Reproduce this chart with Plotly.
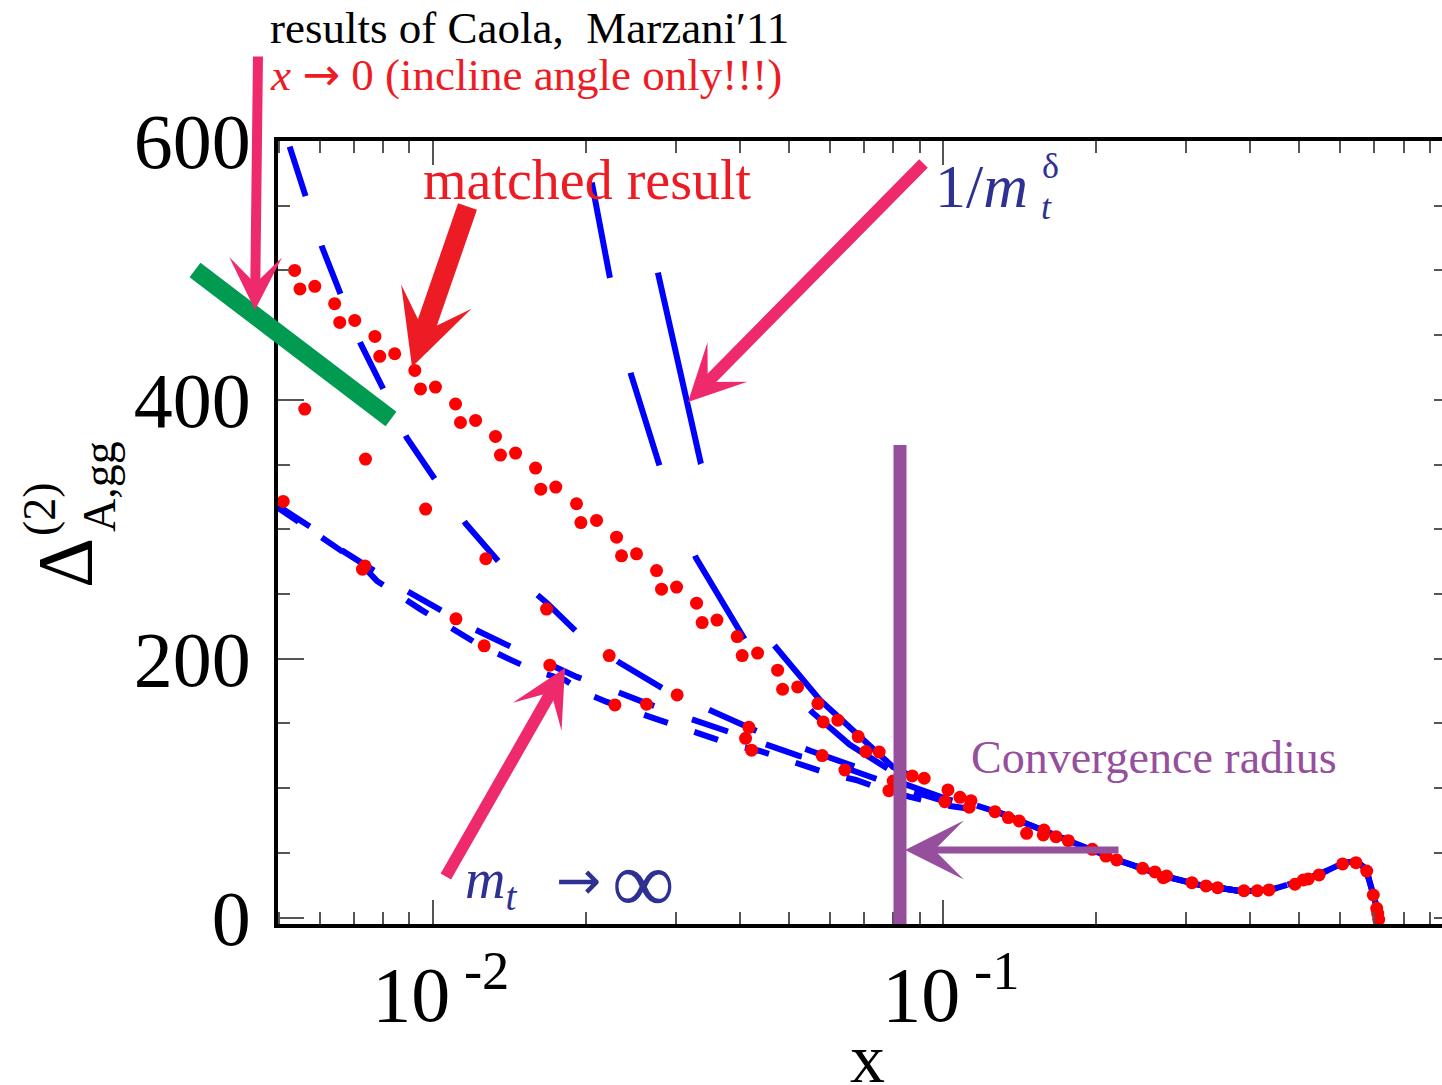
import plotly.graph_objects as go

# ---------------- data ----------------
# matched result (red dots), upper branch
matched_up_x = [0.00490, 0.00536, 0.00549, 0.00587, 0.00642, 0.00657, 0.00703, 0.00770, 0.00787, 0.00842,
                0.00922, 0.00946, 0.01012, 0.01108, 0.01133, 0.01213, 0.01327, 0.01357, 0.01453, 0.01590,
                0.01628, 0.01742, 0.01913, 0.01951, 0.02094, 0.02292, 0.02344, 0.02508, 0.02745, 0.02808,
                0.03005, 0.03289, 0.03373, 0.03606, 0.03951, 0.04041, 0.04332, 0.04742, 0.04850, 0.05190,
                0.05687, 0.05825, 0.06224, 0.06823, 0.07063, 0.07500, 0.07989, 0.07836, 0.08707, 0.09190]
matched_up_y = [512.9, 500.0, 485.7, 487.7, 474.3, 459.8, 461.4, 449.0, 433.6, 435.6,
                422.7, 408.4, 409.9, 396.8, 382.5, 384.1, 371.7, 357.3, 358.9, 347.3,
                331.0, 332.6, 319.7, 305.2, 306.8, 293.9, 279.5, 281.0, 268.1, 253.7,
                255.3, 242.9, 227.9, 229.8, 217.1, 202.4, 204.3, 191.1, 176.4, 178.2,
                165.3, 151.1, 152.5, 139.8, 128.2, 127.9, 105.5, 98.0, 109.4, 107.6]
# matched result, large-x region
matched_hi_x = [0.1023, 0.1009, 0.1080, 0.1135, 0.1126, 0.1265, 0.1343, 0.1411, 0.1459, 0.1578,
                0.1573, 0.1666, 0.1761, 0.1963, 0.2087, 0.2191, 0.2463, 0.2604, 0.2745, 0.2704,
                0.3077, 0.3280, 0.3456, 0.3892, 0.4133, 0.4356, 0.4899, 0.5087, 0.5203, 0.5462,
                0.6076, 0.6453, 0.6773, 0.6978, 0.7087, 0.7118, 0.7150]
matched_hi_y = [98.6, 89.5, 92.9, 90.3, 85.2, 81.8, 77.2, 74.6, 65.1, 67.6,
                63.8, 62.5, 59.4, 52.7, 47.5, 44.5, 38.0, 35.2, 32.1, 30.8,
                26.9, 24.4, 23.0, 20.7, 20.7, 21.3, 25.7, 29.0, 29.8, 32.9,
                41.4, 42.4, 35.9, 17.4, 7.1, 3.2, -1.4]
# matched result, scattered lower points
matched_lo_x = [0.00442, 0.00509, 0.00561, 0.00738, 0.00736, 0.00728, 0.00968, 0.01270, 0.01110, 0.01261,
                0.01671, 0.01696, 0.02217, 0.03013, 0.02275, 0.02624, 0.04165, 0.04103, 0.04216, 0.05799,
                0.06424]
matched_lo_y = [337.8, 321.5, 392.9, 354.2, 271.7, 269.2, 315.6, 277.2, 230.8, 209.9,
                238.3, 195.0, 202.4, 172.0, 164.3, 164.8, 147.0, 138.5, 129.3, 125.1,
                114.0]

# common large-x tail shared by all blue curves
tail_x = [0.1294, 0.1750, 0.2194, 0.2749, 0.3191, 0.3875, 0.4437, 0.5012, 0.5486, 0.6084,
          0.6453, 0.6752, 0.6968, 0.7096, 0.7194]
tail_y = [80.8, 59.9, 44.5, 31.5, 25.1, 20.1, 22.0, 28.2, 33.6, 42.1,
          43.7, 37.5, 19.7, 7.3, -3.5]

# m_t -> infinity (lowest dashed curve)
minf_x = [0.00497, 0.00587, 0.00642, 0.00726, 0.00777, 0.00854, 0.00943, 0.01046, 0.01155, 0.01231,
          0.01422, 0.01585, 0.01815, 0.01968, 0.02194, 0.02444, 0.02737, 0.03050, 0.03445, 0.03823,
          0.04377, 0.04790, 0.05388, 0.06000, 0.06752, 0.07591, 0.08615, 0.1032]
minf_y = [316.6, 297.3, 285.7, 272.5, 260.1, 249.3, 238.5, 227.7, 216.9, 210.7,
          199.1, 190.6, 183.6, 174.3, 166.6, 159.6, 153.5, 147.3, 140.3, 134.1,
          128.7, 123.3, 117.1, 110.9, 106.3, 99.3, 93.2, 86.2]
# 1/m_t expansion, order 1
ord1_x = [0.00497, 0.00587, 0.00642, 0.00726, 0.00787, 0.00873, 0.01018, 0.01192, 0.01397, 0.01636,
          0.01916, 0.02275, 0.02581, 0.03162, 0.03721, 0.04417, 0.05220, 0.06197, 0.07322, 0.08615,
          0.1032]
ord1_y = [318.1, 299.6, 287.2, 274.1, 265.6, 254.0, 239.3, 223.8, 210.7, 198.3,
          185.9, 175.1, 166.6, 154.2, 144.2, 134.9, 124.9, 117.9, 107.8, 97.8,
          88.6]
# order 2
ord2_x = [0.00524, 0.00564, 0.00606, 0.00660, 0.00722, 0.00801, 0.00889, 0.01014, 0.01161, 0.01353,
          0.01673, 0.01924, 0.02326, 0.02876, 0.03540, 0.04397, 0.05511, 0.06810, 0.08615, 0.1032]
ord2_y = [595.7, 557.0, 518.4, 481.3, 443.4, 407.8, 370.7, 337.5, 304.2, 274.1,
          243.1, 219.9, 196.8, 175.1, 159.6, 142.6, 128.7, 115.6, 101.7, 90.8]
# order 3
ord3_x = [0.02050, 0.02224, 0.02444, 0.02787, 0.03280, 0.04128, 0.05561, 0.06570, 0.07873, 0.1032]
ord3_y = [567.8, 494.4, 420.2, 348.3, 277.9, 212.2, 158.1, 133.4, 114.0, 93.2]
# order 4
ord4_x = [0.02762, 0.03050, 0.03354, 0.04662, 0.05739, 0.07980, 0.1032]
ord4_y = [498.3, 423.3, 350.6, 210.7, 168.1, 116.4, 94.7]

x_tick_vals = [0.01, 0.1]
x_tick_text = ["10<sup> -2</sup>", "10<sup> -1</sup>"]
x_minor_vals = [0.005, 0.006, 0.007, 0.008, 0.009, 0.02, 0.03, 0.04, 0.05, 0.06, 0.07, 0.08, 0.09,
                0.2, 0.3, 0.4, 0.5, 0.6, 0.7, 0.8, 0.9]
y_tick_vals = [0, 200, 400, 600]

# ---------------- styling ----------------
W, H = 1442, 1085
L, R, T, B = 278, 1442, 141, 924
SERIF = "Liberation Serif, Times New Roman, serif"
BLUE = "#0000FF"
RED = "#FF0000"
PINK = "#EE2A6C"
ARED = "#ED1C24"
NAVY = "#2E3192"
PURPLE = "#954F9C"
GREEN = "#009A50"
ARROW = "<span style='font-family:DejaVu Sans'>\u2192</span>"


def P(px, py):
    return (px - L) / (R - L), (B - py) / (B - T)


fig = go.Figure()

curves = [
    (minf_x, minf_y, "25px,28px"),
    (ord1_x, ord1_y, "38px,40px"),
    (ord2_x, ord2_y, "52px,52px"),
    (ord3_x, ord3_y, "97px,97px"),
    (ord4_x, ord4_y, "196px,196px"),
]
for cx, cy, dash in curves:
    fig.add_trace(go.Scatter(x=cx + tail_x, y=cy + tail_y, mode="lines",
                             line=dict(color=BLUE, width=6, dash=dash),
                             showlegend=False, hoverinfo="skip"))

for mx, my in [(matched_up_x, matched_up_y), (matched_hi_x, matched_hi_y), (matched_lo_x, matched_lo_y)]:
    fig.add_trace(go.Scatter(x=mx, y=my, mode="markers", cliponaxis=False,
                             marker=dict(color=RED, size=13, line=dict(width=0)),
                             showlegend=False, hoverinfo="skip"))

# dummy trace for right-hand tick axis
fig.add_trace(go.Scatter(x=[None], y=[None], yaxis="y2", showlegend=False, hoverinfo="skip"))

fig.update_layout(
    width=W, height=H,
    margin=dict(l=L, r=W - R, t=T, b=H - B, pad=0),
    paper_bgcolor="white", plot_bgcolor="white",
    font=dict(family=SERIF, color="black"),
    xaxis=dict(type="log", range=[-2.3035, -0.0216], showline=True, linecolor="black", linewidth=3.5,
               mirror="ticks", ticks="inside", ticklen=24, tickwidth=1.5, tickcolor="#555",
               tickmode="array", tickvals=x_tick_vals, ticktext=x_tick_text,
               tickfont=dict(family=SERIF, size=78, color="black"),
               ticklabelstandoff=0, ticklabelshift=8,
               minor=dict(tickmode="array", tickvals=x_minor_vals, ticks="inside", ticklen=12,
                          tickwidth=1.5, tickcolor="#555"),
               showgrid=False, zeroline=False),
    yaxis=dict(range=[-5, 600], showline=True, linecolor="black", linewidth=3.5,
               ticks="inside", ticklen=26, tickwidth=1.5, tickcolor="#555",
               tickmode="array", tickvals=y_tick_vals,
               tickfont=dict(family=SERIF, size=78, color="black"),
               ticklabelstandoff=8,
               minor=dict(dtick=50, tick0=0, ticks="inside", ticklen=12, tickwidth=1.5, tickcolor="#555"),
               showgrid=False, zeroline=False),
    yaxis2=dict(range=[-5, 600], overlaying="y", side="right", showline=False,
                ticks="inside", ticklen=8, tickwidth=1.5, tickcolor="#555",
                tickmode="array", tickvals=y_tick_vals, showticklabels=False,
                minor=dict(dtick=50, tick0=0, ticks="inside", ticklen=8, tickwidth=1.5, tickcolor="#555"),
                showgrid=False, zeroline=False),
)

shapes = []
gx0, gy0 = P(195, 270)
gx1, gy1 = P(391, 419)
shapes.append(dict(type="line", xref="paper", yref="paper", x0=gx0, y0=gy0, x1=gx1, y1=gy1,
                   line=dict(color=GREEN, width=18)))
vx0, vy0 = P(900, 445)
vx1, vy1 = P(900, 924)
shapes.append(dict(type="line", xref="paper", yref="paper", x0=vx0, y0=vy0, x1=vx1, y1=vy1,
                   line=dict(color=PURPLE, width=13)))
fig.update_layout(shapes=shapes)

ann = []


def text(px, py, s, size, color, xanchor="center", yanchor="middle", angle=0, family=SERIF, height=None):
    x, y = P(px, py)
    d = dict(x=x, y=y, xref="paper", yref="paper", text=s, showarrow=False,
             xanchor=xanchor, yanchor=yanchor, textangle=angle,
             font=dict(family=family, size=size, color=color))
    if height is not None:
        d["height"] = height
    ann.append(d)


def arrow(tail, tip, color, width, size, head=3):
    x, y = P(*tip)
    ann.append(dict(x=x, y=y, xref="paper", yref="paper", text="", showarrow=True,
                    ax=tail[0] - tip[0], ay=tail[1] - tip[1], axref="pixel", ayref="pixel",
                    arrowhead=head, arrowsize=size, arrowwidth=width, arrowcolor=color, standoff=0))


text(268, 28, "results of Caola,  Marzani\u203211", 45, "black", xanchor="left")
text(268, 74, "<i>x</i> " + ARROW + " 0 (incline angle only!!!)", 45, ARED, xanchor="left")
text(587, 180, "matched result", 56, ARED)
text(933, 186, "1/<i>m</i>", 62, NAVY, xanchor="left")
text(1050, 166, "\u03b4", 36, NAVY)
text(1046, 207, "<i>t</i>", 36, NAVY)
text(463, 883, "<i>m</i><sub><i>t</i></sub>", 56, NAVY, xanchor="left")
text(578, 880, "\u2192", 54, NAVY, family="DejaVu Sans")
text(643, 882, "\u221e", 88, NAVY)
text(1154, 757, "Convergence radius", 46, PURPLE)
text(867, 1058, "x", 70, "black", height=48)
text(64, 563, "\u0394", 78, "black", angle=-90)
text(39, 509, "(2)", 46, "black", angle=-90)
text(99, 487, "A,gg", 46, "black", angle=-90)

arrow((258, 55), (255, 310), PINK, 10, 0.88)
arrow((468, 205), (412, 367), ARED, 20, 0.62)
arrow((925, 162), (688, 402), PINK, 12, 0.78)
arrow((445, 878), (565, 668), PINK, 12, 0.78)
arrow((1120, 850), (905, 850), PURPLE, 7, 1.4)

fig.update_layout(annotations=ann)

fig.write_html("out.html")
